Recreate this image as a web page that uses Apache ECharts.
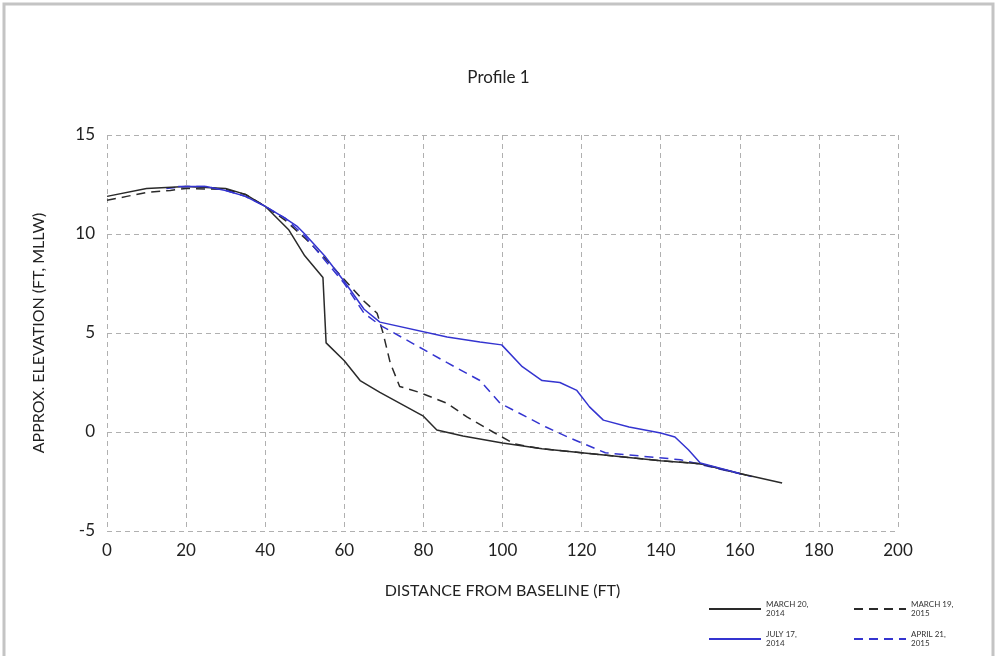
<!DOCTYPE html>
<html>
<head>
<meta charset="utf-8">
<script src="https://cdn.jsdelivr.net/npm/echarts@6/dist/echarts.min.js"></script>
<style>
  html, body { margin: 0; padding: 0; background: #fff; }
  #chart { width: 997px; height: 656px; }
</style>
</head>
<body>
<div id="chart"></div>
<script>
// survey values
const march2014X = [0, 10, 20, 30, 35, 40, 46, 50, 54.6, 55.4, 60, 64, 69, 80, 83.4, 90, 100, 110, 120, 140, 150, 160, 170.7];
const march2014Y = [11.9, 12.3, 12.4, 12.3, 12.0, 11.4, 10.2, 8.9, 7.8, 4.5, 3.6, 2.6, 2.0, 0.8, 0.1, -0.2, -0.55, -0.85, -1.05, -1.45, -1.6, -2.1, -2.58];

const march2015X = [0, 5, 10, 16, 20, 30, 35, 40, 45, 50, 55, 60, 65, 68.3, 69.8, 71.6, 74, 79, 86, 91, 97.6, 103, 110, 120, 140, 150, 162];
const march2015Y = [11.7, 11.9, 12.1, 12.2, 12.3, 12.25, 12.0, 11.4, 10.7, 9.8, 8.8, 7.7, 6.6, 6.0, 5.0, 3.5, 2.3, 2.0, 1.45, 0.76, 0.0, -0.6, -0.85, -1.05, -1.45, -1.6, -2.2];

const july2014X = [18, 25, 30, 35, 40, 45, 48, 50, 55, 60, 65, 69, 86, 94.3, 99.8, 105, 110, 114.5, 118.8, 122, 125.5, 132, 140, 143.6, 147, 150, 160];
const july2014Y = [12.4, 12.4, 12.2, 11.9, 11.4, 10.8, 10.4, 10.0, 8.9, 7.6, 6.2, 5.55, 4.8, 4.55, 4.4, 3.3, 2.6, 2.5, 2.1, 1.27, 0.6, 0.25, -0.05, -0.25, -0.9, -1.57, -2.1];

const april2015X = [15, 20, 25, 30, 35, 40, 45, 50, 55, 60, 65, 69, 86, 94.3, 99.4, 111, 117, 126, 145, 163];
const april2015Y = [12.3, 12.4, 12.4, 12.2, 11.9, 11.4, 10.8, 9.9, 8.7, 7.5, 6.0, 5.4, 3.5, 2.6, 1.45, 0.25, -0.3, -1.05, -1.4, -2.25];

const seriesNames = ['MARCH 20, 2014', 'MARCH 19, 2015', 'JULY 17, 2014', 'APRIL 21, 2015'];

const FONT = 'Lato, "Open Sans", sans-serif';
const BLACK = '#2a2a2a';
const BLUE = '#3434d0';

function pairs(xs, ys) {
  return xs.map((x, i) => [x, ys[i]]);
}

function makeLine(name, xs, ys, color, type) {
  return {
    name: name,
    type: 'line',
    data: pairs(xs, ys),
    symbol: 'none',
    smooth: false,
    lineStyle: { color: color, width: 1.5, type: type },
    itemStyle: { color: color },
    z: type === 'solid' ? 3 : 2
  };
}

function legendAt(name, left, top) {
  return {
    data: [name],
    left: left,
    top: top,
    itemWidth: 52,
    itemHeight: 10,
    itemGap: 8,
    selectedMode: false,
    itemStyle: { opacity: 0 },
    formatter: n => n.replace(', ', ',\n'),
    textStyle: { fontFamily: FONT, fontSize: 8, lineHeight: 9, color: '#333' }
  };
}

const gridStyle = { show: true, lineStyle: { color: '#b0b0b0', type: [5, 4], width: 1 } };

const chart = echarts.init(document.getElementById('chart'), null, { renderer: 'canvas' });

chart.setOption({
  backgroundColor: '#fff',
  animation: false,
  title: {
    text: 'Profile 1',
    left: 'center',
    top: 64,
    textStyle: { fontFamily: FONT, fontSize: 17, fontWeight: 'normal', color: '#222' }
  },
  graphic: [{
    type: 'rect',
    shape: { x: 4, y: 4, width: 989, height: 660 },
    style: { fill: null, stroke: '#c4c4c4', lineWidth: 3 },
    silent: true
  }],
  legend: [
    legendAt(seriesNames[0], 703, 595),
    legendAt(seriesNames[1], 848, 595),
    legendAt(seriesNames[2], 703, 625),
    legendAt(seriesNames[3], 848, 625)
  ],
  grid: { left: 107, top: 135, width: 791, height: 396 },
  xAxis: {
    type: 'value',
    min: 0,
    max: 200,
    interval: 20,
    name: 'DISTANCE FROM BASELINE (FT)',
    nameLocation: 'middle',
    nameGap: 52,
    nameTextStyle: { fontFamily: FONT, fontSize: 16, color: '#222' },
    axisLine: { show: false },
    axisTick: { show: false },
    axisLabel: { fontFamily: FONT, fontSize: 17, color: '#222', margin: 11 },
    splitLine: gridStyle
  },
  yAxis: {
    type: 'value',
    min: -5,
    max: 15,
    interval: 5,
    name: 'APPROX. ELEVATION (FT, MLLW)',
    nameLocation: 'middle',
    nameGap: 60,
    nameTextStyle: { fontFamily: FONT, fontSize: 16, color: '#222' },
    axisLine: { show: false },
    axisTick: { show: false },
    axisLabel: { fontFamily: FONT, fontSize: 17, color: '#222', margin: 12 },
    splitLine: gridStyle
  },
  series: [
    makeLine(seriesNames[0], march2014X, march2014Y, BLACK, 'solid'),
    makeLine(seriesNames[1], march2015X, march2015Y, BLACK, [9, 6]),
    makeLine(seriesNames[2], july2014X, july2014Y, BLUE, 'solid'),
    makeLine(seriesNames[3], april2015X, april2015Y, BLUE, [9, 6])
  ]
});
</script>
</body>
</html>
